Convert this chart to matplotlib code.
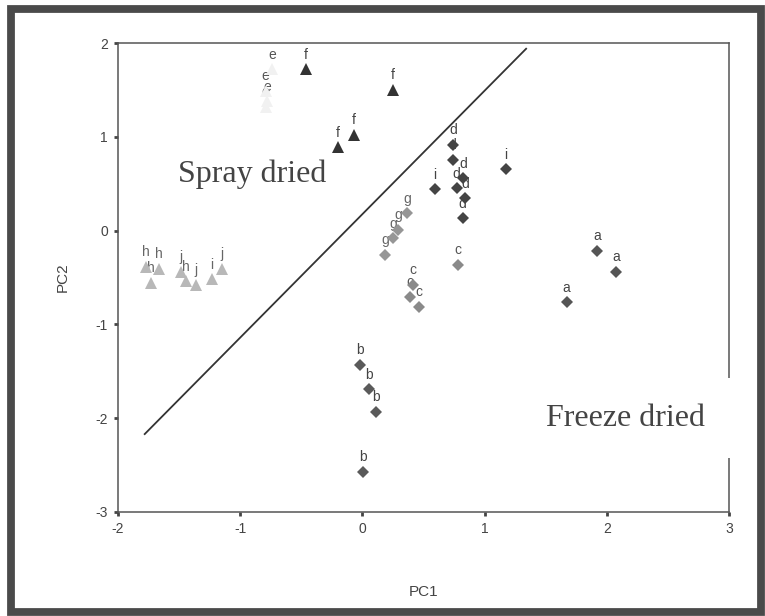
import matplotlib
matplotlib.use("Agg")
import matplotlib.pyplot as plt
from matplotlib.patches import Rectangle

# ---- data ----
# Spray dried samples (triangles)
f_x = [-0.46, 0.25, -0.07, -0.20]
f_y = [1.72, 1.50, 1.02, 0.89]
e_x = [-0.74, -0.79, -0.78, -0.79]
e_y = [1.72, 1.49, 1.38, 1.32]
hij_x = [-1.77, -1.73, -1.66, -1.485, -1.44, -1.36, -1.23, -1.15]
hij_y = [-0.385, -0.555, -0.41, -0.44, -0.54, -0.58, -0.52, -0.41]
hij_lab = ["h", "h", "h", "j", "h", "j", "i", "j"]

# Freeze dried samples (diamonds)
d_x = [0.743, 0.738, 0.825, 0.771, 0.839, 0.820]
d_y = [0.913, 0.753, 0.558, 0.451, 0.344, 0.131]
i_x = [0.593, 1.174]
i_y = [0.440, 0.654]
a_x = [1.921, 2.074, 1.671]
a_y = [-0.214, -0.438, -0.764]
b_x = [-0.015, 0.056, 0.108, 0.007]
b_y = [-1.433, -1.692, -1.931, -2.570]
g_x = [0.367, 0.293, 0.252, 0.184]
g_y = [0.184, 0.006, -0.082, -0.260]
c_x = [0.784, 0.416, 0.389, 0.465]
c_y = [-0.367, -0.580, -0.705, -0.811]

# separating line
line_x = [-1.78, 1.34]
line_y = [-2.17, 1.94]

x_ticks = [-2, -1, 0, 1, 2, 3]
y_ticks = [-3, -2, -1, 0, 1, 2]

# ---- figure ----
fig = plt.figure(figsize=(7.65, 6.16), dpi=100)
fig.patch.set_facecolor("white")
fig.patches.append(Rectangle((0.0144, 0.0057), 0.9810, 0.9789,
                             transform=fig.transFigure, fill=False,
                             edgecolor="#4a4a4a", linewidth=5.6))

ax = fig.add_axes([0.154, 0.169, 0.799, 0.761])
sans = ["Liberation Sans", "DejaVu Sans"]
serif = ["Liberation Serif", "DejaVu Serif"]

series = [
    (e_x, e_y, ["e"] * 4, "^", "#f1f1f1", 8.5, "#555555"),
    (f_x, f_y, ["f"] * 4, "^", "#333333", 8.5, "#444444"),
    (hij_x, hij_y, hij_lab, "^", "#b8b8b8", 8.5, "#666666"),
    (g_x, g_y, ["g"] * 4, "D", "#969696", 6.6, "#666666"),
    (c_x, c_y, ["c"] * 4, "D", "#8a8a8a", 6.6, "#555555"),
    (b_x, b_y, ["b"] * 4, "D", "#5a5a5a", 6.6, "#444444"),
    (a_x, a_y, ["a"] * 3, "D", "#555555", 6.6, "#444444"),
    (d_x, d_y, ["d"] * 6, "D", "#444444", 6.6, "#444444"),
    (i_x, i_y, ["i"] * 2, "D", "#444444", 6.6, "#444444"),
]
for xs, ys, labs, mk, col, ms, tcol in series:
    ax.plot(xs, ys, linestyle="none", marker=mk, markersize=ms,
            color=col, markeredgewidth=0, zorder=3)
    for xv, yv, lb in zip(xs, ys, labs):
        ax.annotate(lb, (xv, yv), xytext=(0, 10.5), textcoords="offset points",
                    ha="center", va="center", fontsize=10, color=tcol,
                    family=sans, zorder=2)

ax.plot(line_x, line_y, color="#333333", linewidth=1.3, zorder=2)

ax.text(-0.9, 0.6, "Spray dried", fontsize=23, family=serif,
        color="#444444", ha="center", va="center", zorder=4)
ax.text(2.15, -2.0, "Freeze dried", fontsize=23, family=serif,
        color="#444444", ha="center", va="center", zorder=5, clip_on=False,
        bbox=dict(boxstyle="square,pad=0.8", facecolor="white",
                  edgecolor="none"))

ax.set_xlim(-2, 3)
ax.set_ylim(-3, 2)
ax.set_xticks(x_ticks)
ax.set_yticks(y_ticks)
ax.set_xticklabels([str(v) for v in x_ticks], family=sans, fontsize=10,
                   color="#444444")
ax.set_yticklabels([str(v) for v in y_ticks], family=sans, fontsize=10,
                   color="#444444")
ax.tick_params(direction="out", length=3, width=2, color="#444444", pad=4)
for sp in ax.spines.values():
    sp.set_color("#555555")
    sp.set_linewidth(1.1)

ax.set_xlabel("PC1", family=sans, fontsize=11, color="#444444")
ax.set_ylabel("PC2", family=sans, fontsize=11, color="#444444")
ax.xaxis.set_label_coords(0.5, -0.156)
ax.yaxis.set_label_coords(-0.0786, 0.5)

fig.savefig("out.png", dpi=100)
